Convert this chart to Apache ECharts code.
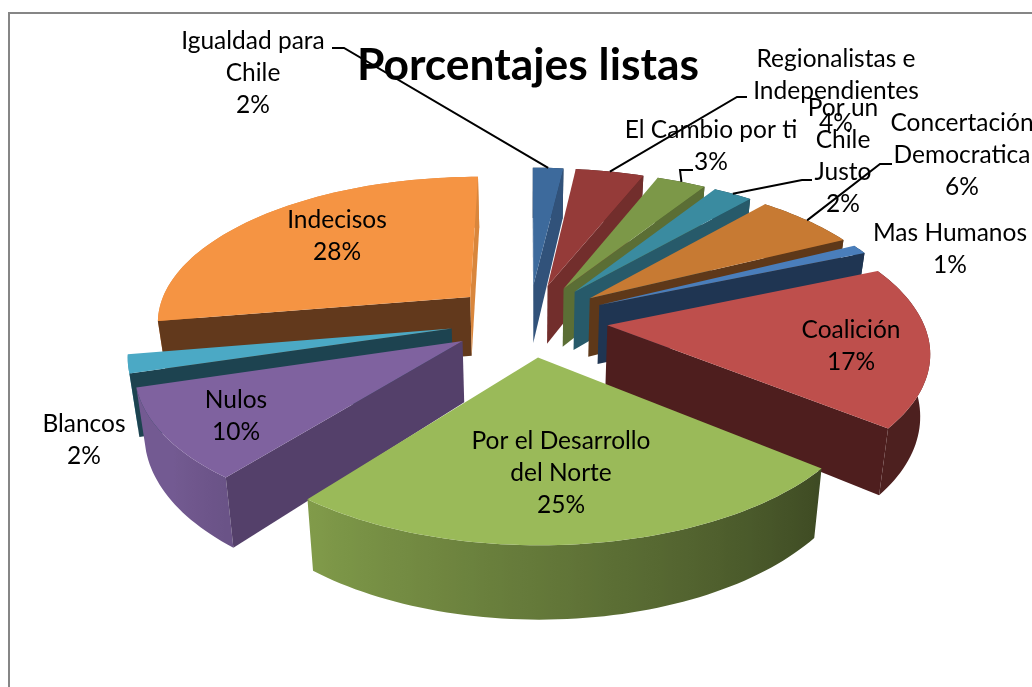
<!DOCTYPE html>
<html><head><meta charset="utf-8">
<style>html,body{margin:0;padding:0;background:#fff}#c{width:1032px;height:687px}</style>
<script src="https://cdn.jsdelivr.net/npm/echarts@6/dist/echarts.min.js"></script>
</head><body><div id="c"></div>
<script>
const categories = ['Igualdad para\nChile','Regionalistas e\nIndependientes','El Cambio por ti','Por un\nChile\nJusto','Concertación\nDemocratica','Mas Humanos','Coalición','Por el Desarrollo\ndel Norte','Nulos','Blancos','Indecisos'];
const percentages = [1.85,4.15,3,2.4,6.2,1,17.3,24.7,9.7,2,27.7];

const topColors   = ['#3D6A9C','#953B39','#7C9848','#3A8BA0','#C77A33','#4A7EBB','#BE4F4C','#9ABA59','#7F629F','#4BA9C5','#F59443'];
const startWalls  = ['#31527A','#722E2C','#5B6E35','#275A6A','#5E3819','#1F3552','#4E1E1E','#4E5E2C','#54406A','#1D4350','#62391C'];
const endWalls    = ['#31527A','#722E2C','#5B6E35','#275A6A','#5E3819','#1F3552','#4E1E1E','#4E5E2C','#54406A','#1D4350','#D9863C'];
const wallBases   = ['#4F81BD','#C0504D','#9BBB59','#4BACC6','#F79646','#4F81BD','#C0504D','#9BBB59','#8064A2','#4BACC6','#F79646'];
// label centres (first line) and leader-line elbow, page pixels
const labelAt = [[253,41],[836,59],[711,130],[843,108],[962,123],[950,233],[851,330],[561,441],[236,400],[84,424],[337,220]];
const leaderFrom = [[332,48],[747,97],[693,170],[812,180],[892,164],null,null,null,null,null,null];
const leaderElbow= [[344,48],[737,97],[680,170],[802,180],[880,164],null,null,null,null,null,null];

const G = {cx:529, cy:320, rx:315, ry:145.5, k:0.155, explode:0.25, depth:60, shrink:0.025};
const lineH = 32, fontSize = 24.5, fontFamily = 'Lato, "Noto Sans", sans-serif';

const total = percentages.reduce((a,b)=>a+b,0);
let acc = 0;
const spans = percentages.map(p=>{const a0=acc/total*Math.PI*2; acc+=p; return [a0,acc/total*Math.PI*2];});
function project(u,v,z){
  const s = 1/(1-G.k*v);
  return [G.cx + G.rx*u*s*(1-G.shrink*z), G.cy + G.ry*v*s + G.depth*s*z];
}
function offs(i){const m=(spans[i][0]+spans[i][1])/2; return [G.explode*Math.sin(m),-G.explode*Math.cos(m)];}
function rim(i,a,z){const o=offs(i); return project(o[0]+Math.sin(a),o[1]-Math.cos(a),z);}
function tip(i,z){const o=offs(i); return project(o[0],o[1],z);}
function area(p){let s=0;for(let j=0;j<p.length;j++){const q=p[(j+1)%p.length];s+=p[j][0]*q[1]-q[0]*p[j][1];}return s/2;}
function shadeAt(a){const d=a*180/Math.PI; return Math.max(.4,Math.min(.9,.4+(d-130)/86*.42));}
function mul(hex,f){const n=parseInt(hex.slice(1),16);const c=[n>>16,(n>>8)&255,n&255].map(x=>Math.round(x*f));return `rgb(${c[0]},${c[1]},${c[2]})`;}

function renderSlice(params,api){
  const i = api.value(0), a0=spans[i][0], a1=spans[i][1];
  const N = Math.max(6,Math.ceil((a1-a0)*40));
  const topArc=[],botArc=[],angles=[];
  for(let j=0;j<=N;j++){const a=a0+(a1-a0)*j/N;topArc.push(rim(i,a,0));botArc.push(rim(i,a,1));angles.push(a);}
  const children=[];
  const T0=tip(i,0),T1=tip(i,1);
  const outer=topArc.concat(botArc.slice().reverse());
  const xs=outer.map(p=>p[0]),minX=Math.min(...xs),maxX=Math.max(...xs);
  const colorStops=topArc.map((p,j)=>({offset:Math.max(0,Math.min(1,(p[0]-minX)/((maxX-minX)||1))),color:mul(wallBases[i],shadeAt(angles[j]))})).sort((a,b)=>a.offset-b.offset);
  children.push({type:'polygon',shape:{points:outer},style:{fill:{type:'linear',x:0,y:0,x2:1,y2:0,colorStops}}});
  const startQ=[T0,topArc[0],botArc[0],T1], endQ=[T0,topArc[N],botArc[N],T1];
  if(area(startQ)<0) children.push({type:'polygon',shape:{points:startQ},style:{fill:startWalls[i]}});
  if(area(endQ)>0)   children.push({type:'polygon',shape:{points:endQ},style:{fill:endWalls[i]}});
  children.push({type:'polygon',shape:{points:[T0].concat(topArc)},style:{fill:topColors[i]}});
  return {type:'group',children};
}
function renderLabel(params,api){
  const i=api.value(0), lines=categories[i].split('\n').concat([Math.round(api.value(1))+'%']);
  const children=[];
  if(leaderFrom[i]){
    const m=(spans[i][0]+spans[i][1])/2;
    children.push({type:'polyline',shape:{points:[leaderFrom[i],leaderElbow[i],rim(i,m,0)]},style:{stroke:'#000',lineWidth:2,fill:null}});
  }
  lines.forEach((t,j)=>children.push({type:'text',style:{text:t,x:labelAt[i][0],y:labelAt[i][1]+j*lineH,align:'center',verticalAlign:'middle',fill:'#000',font:`${fontSize}px ${fontFamily}`}}));
  return {type:'group',children};
}
const order = percentages.map((_,i)=>i).sort((a,b)=>{
  const f=i=>-Math.cos((spans[i][0]+spans[i][1])/2); return f(a)-f(b);});

const chart = echarts.init(document.getElementById('c'),null,{renderer:'canvas'});
chart.setOption({
  animation:false,
  backgroundColor:'#fff',
  title:{text:'Porcentajes listas',left:523,top:39,textAlign:'center',textStyle:{fontFamily:'Lato, sans-serif',fontWeight:'bold',fontSize:44.4,color:'#000'}},
  graphic:[{type:'rect',silent:true,z:-1,shape:{x:9,y:13,width:1200,height:900},style:{fill:'#fff',stroke:'#868686',lineWidth:2}}],
  series:[
    {type:'custom',coordinateSystem:'none',silent:true,z:2,renderItem:renderSlice,data:order.map(i=>[i,percentages[i]])},
    {type:'custom',coordinateSystem:'none',silent:true,z:5,renderItem:renderLabel,data:order.map(i=>[i,percentages[i]])}
  ]
});
</script></body></html>
